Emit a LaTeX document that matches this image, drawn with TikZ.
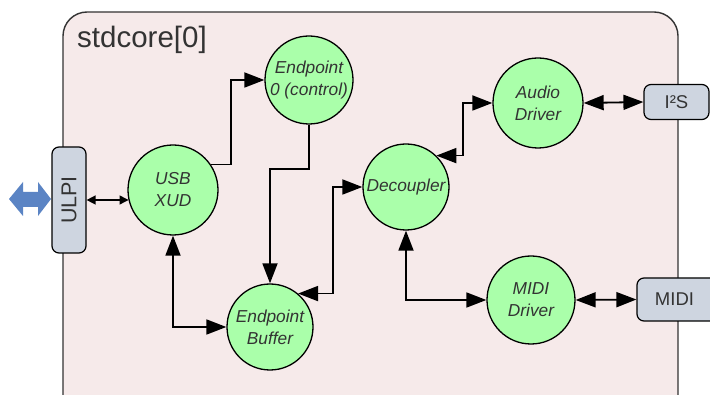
\documentclass[tikz,border=0pt]{standalone}
\usepackage{fontspec}
\setmainfont{Liberation Sans}
\usetikzlibrary{arrows.meta}
\definecolor{corefill}{HTML}{F6EAEA}
\definecolor{procfill}{HTML}{AAFFAA}
\definecolor{portfill}{HTML}{CED5E0}
\definecolor{inktext}{HTML}{333333}
\definecolor{busblue}{HTML}{5B84C4}
\begin{document}
\begin{tikzpicture}[x=1pt,y=-1pt,
  corebox/.style={draw=inktext, line width=1.4pt, fill=corefill, rounded corners=24pt},
  proc/.style={circle, draw=black, line width=1.3pt, fill=procfill, inner sep=0pt,
    text=inktext, align=center, font=\fontsize{17.3}{22}\selectfont\itshape},
  port/.style={draw=black, line width=1.2pt, fill=portfill, rounded corners=7pt,
    inner sep=0pt, text=inktext},
  arr/.style={draw=black, line width=1.8pt, -{Triangle[length=20pt,width=15pt]}},
  bi/.style={draw=black, line width=1.8pt,
    {Triangle[length=20pt,width=15pt]}-{Triangle[length=20pt,width=15pt]}},
  smallbi/.style={draw=black, line width=1.4pt,
    {Triangle[length=9pt,width=9pt]}-{Triangle[length=9pt,width=9pt]}}]
\useasboundingbox (0,0) rectangle (710,395);
\clip (0,0) rectangle (710,395);

% tile outline
\draw[corebox] (63,12) rectangle (678,445);
\node[anchor=west, text=inktext, inner sep=0pt,
  font=\fontsize{29.5}{33}\selectfont] (title) at (77,40) {stdcore[0]};

% external bus arrow
\fill[busblue] (9,199) -- (23,182) -- (23,192) -- (38,192) -- (38,182) -- (51,199)
  -- (38,216) -- (38,207) -- (23,207) -- (23,216) -- cycle;

% ports
\node[port, minimum width=34pt, minimum height=106pt,
  font=\fontsize{21.5}{24}\selectfont] (ulpi) at (69,200) {\rotatebox{90}{ULPI}};
\node[port, minimum width=65pt, minimum height=35pt,
  font=\fontsize{18.5}{22}\selectfont] (i2s) at (676.5,102) {I²S};
\node[port, minimum width=80pt, minimum height=43pt,
  font=\fontsize{18.5}{22}\selectfont] (midibox) at (677,299.5) {\hspace*{-5pt}MIDI};

% threads
\node[proc, minimum size=90pt] (xud) at (173,190) {USB\\XUD};
\node[proc, minimum size=88pt] (ep0) at (309,80) {Endpoint\\0 (control)};
\node[proc, minimum size=86pt] (epb) at (270,327) {Endpoint\\Buffer};
\node[proc, minimum size=86pt] (dec) at (406,187) {Decoupler};
\node[proc, minimum size=90pt] (aud) at (538,103) {Audio\\Driver};
\node[proc, minimum size=88pt] (mid) at (531,300) {MIDI\\Driver};

% channels
\draw[smallbi] (ulpi.east) -- (ulpi.east -| xud.193);
\draw[arr] (xud.34) -- ++(20,0) |- (ep0.west);
\draw[arr] (ep0.south) -- ++(0,44) -| (epb.north);
\draw[bi] (xud.south) |- (epb.west);
\draw[bi] (epb.50) -- ++(35,0) |- (dec.west);
\draw[bi] (dec.46) -- ++(27,0) |- (aud.west);
\draw[bi] (dec.south) |- (mid.west);
\draw[bi] (aud.east) -- (i2s.west);
\draw[bi] (mid.east) -- (midibox.west);
\end{tikzpicture}
\end{document}
